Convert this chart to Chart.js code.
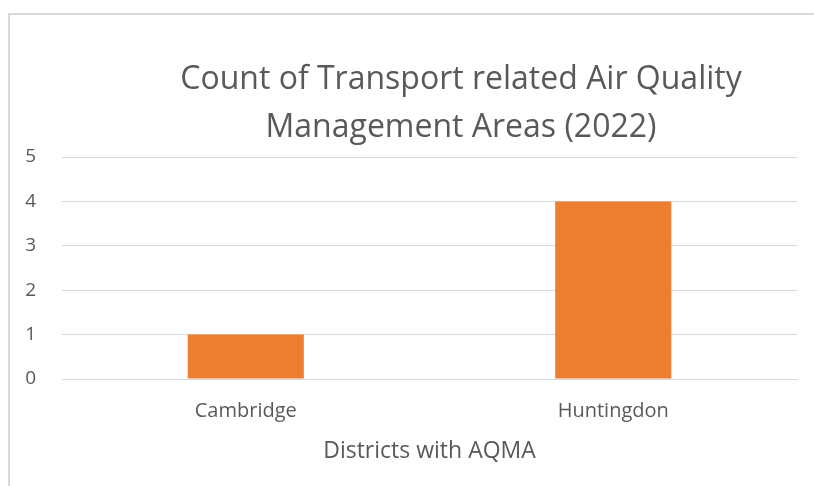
<!DOCTYPE html>
<html>
<head>
<meta charset="utf-8">
<script src="https://cdn.jsdelivr.net/npm/chart.js@4/dist/chart.umd.min.js"></script>
<style>
  html, body { margin: 0; padding: 0; background: #ffffff; overflow: hidden; }
  #frame {
    position: absolute; left: 8px; top: 13px; width: 830px; height: 500px;
    border: 2px solid #d9d9d9; box-sizing: border-box;
  }
  #wrap { position: absolute; left: 0; top: 0; width: 814px; height: 486px; }
</style>
</head>
<body>
<div id="frame"></div>
<div id="wrap"><canvas id="chart" width="814" height="486"></canvas></div>
<script>
const categories = ['Cambridge', 'Huntingdon'];
const counts = [1, 4];
const yTicks = [0, 1, 2, 3, 4, 5];
const titleLines = ['Count of Transport related Air Quality', 'Management Areas (2022)'];
const xAxisTitle = 'Districts with AQMA';

const textColor = '#595959';
const gridColor = '#d9d9d9';
const barColor = '#ED7D31';
const fontFamily = '"Open Sans", sans-serif';

// Excel puts the title a bit right of the canvas centre, so draw it ourselves
const titlePlugin = {
  id: 'excelTitle',
  afterDraw: function (chart) {
    const ctx = chart.ctx;
    ctx.save();
    ctx.fillStyle = textColor;
    ctx.font = '32px ' + fontFamily;
    ctx.textAlign = 'center';
    ctx.textBaseline = 'middle';
    ctx.fillText(titleLines[0], 461, 80);
    ctx.fillText(titleLines[1], 461, 128);
    ctx.restore();
  }
};

new Chart(document.getElementById('chart').getContext('2d'), {
  type: 'bar',
  data: {
    labels: categories,
    datasets: [{
      data: counts,
      backgroundColor: barColor,
      barPercentage: 0.316,
      categoryPercentage: 1
    }]
  },
  options: {
    responsive: false,
    animation: false,
    layout: { padding: { left: 10, right: 17, top: 157, bottom: 17 } },
    plugins: {
      legend: { display: false },
      tooltip: { enabled: false }
    },
    scales: {
      y: {
        min: 0,
        max: 5,
        afterBuildTicks: function (scale) {
          scale.ticks = yTicks.map(v => ({ value: v }));
        },
        afterFit: function (scale) { scale.width = 52; },
        grid: { color: gridColor, lineWidth: 1, drawTicks: false },
        border: { display: false },
        ticks: {
          color: textColor,
          padding: 26,
          font: { family: fontFamily, size: 19 }
        }
      },
      x: {
        afterFit: function (scale) { scale.height = 90; },
        grid: { display: false },
        border: { color: gridColor, width: 1 },
        ticks: {
          color: textColor,
          padding: 12,
          font: { family: fontFamily, size: 20 }
        },
        title: {
          display: true,
          text: xAxisTitle,
          color: textColor,
          padding: { top: 4 },
          font: { family: fontFamily, size: 23 }
        }
      }
    }
  },
  plugins: [titlePlugin]
});
</script>
</body>
</html>
